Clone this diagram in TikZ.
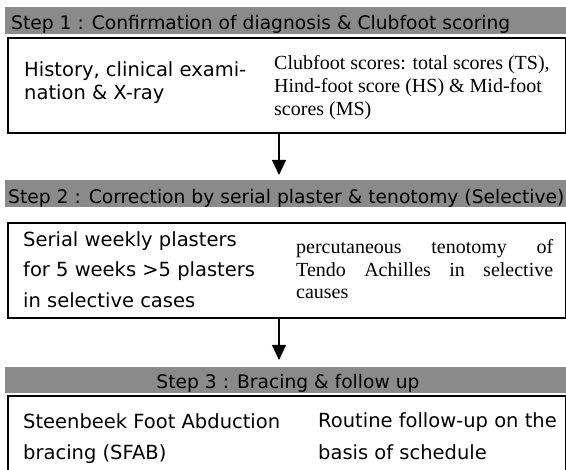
\documentclass[tikz,border=0pt]{standalone}
\usepackage{fontspec}
\setmainfont{Liberation Serif}
\newfontfamily\sansf{DejaVu Sans}
\usetikzlibrary{arrows.meta}
\definecolor{bargray}{RGB}{138,138,138}
\tikzset{
  bar/.style={fill=bargray, draw=none, anchor=north west, inner sep=0pt},
  stepbox/.style={draw=black, line width=1.6pt, fill=none, anchor=north west, inner sep=0pt},
  sans/.style={anchor=base west, inner sep=0pt, font=\sansf\fontsize{19.5}{23}\selectfont},
  head/.style={anchor=base west, inner sep=0pt, font=\sansf\fontsize{18.7}{23}\selectfont},
  serif/.style={anchor=base west, inner sep=0pt, font=\fontsize{20}{23}\selectfont},
  flow/.style={line width=1.2pt, -{Triangle[width=14pt,length=15pt]}},
}
\begin{document}
\begin{tikzpicture}[x=1pt,y=-1pt]
\useasboundingbox (0,0) rectangle (566,470);
\clip (0,0) rectangle (566,470);
\fill[white] (0,0) rectangle (566,470);
% Step 1
\node[bar, minimum width=561pt, minimum height=27pt] (bar1) at (5,7) {};
\node[head] (h1) at (11,30) {Step 1 : Confirmation of diagnosis \& Clubfoot scoring};
\node[stepbox, minimum width=558pt, minimum height=95pt] (box1) at (7,37) {};
\node[sans] (t1a) at (24,77) {History, clinical exami-};
\node[sans] (t1b) at (24,100) {nation \& X-ray};
\node[serif] (s1a) at (274,70) {Clubfoot scores: total scores (TS),};
\node[serif] (s1b) at (274,93) {Hind-foot score (HS) \& Mid-foot};
\node[serif] (s1c) at (274,116) {scores (MS)};
% Step 2
\node[bar, minimum width=561pt, minimum height=27pt] (bar2) at (5,180) {};
\node[head] (h2) at (8,204) {Step 2 : Correction by serial plaster \& tenotomy (Selective)};
\node[stepbox, minimum width=558pt, minimum height=95pt] (box2) at (7,222) {};
\node[sans] (t2a) at (23,247) {Serial weekly plasters};
\node[sans] (t2b) at (23,277) {for 5 weeks >5 plasters};
\node[sans] (t2c) at (23,308) {in selective cases};
\node[serif] (s2a) at (296,254) {\makebox[257pt][s]{percutaneous tenotomy of}};
\node[serif] (s2b) at (296,277) {\makebox[257pt][s]{Tendo Achilles in selective}};
\node[serif] (s2c) at (296,299) {causes};
% Step 3
\node[bar, minimum width=561pt, minimum height=26pt] (bar3) at (5,367) {};
\node[head, anchor=base] (h3) at (288,389) {Step 3 : Bracing \& follow up};
\node[stepbox, minimum width=558pt, minimum height=90pt] (box3) at (7,395) {};
\node[sans] (t3a) at (23,429) {Steenbeek Foot Abduction};
\node[sans] (t3b) at (23,460) {bracing (SFAB)};
\node[sans] (s3a) at (318,428) {Routine follow-up on the};
\node[sans] (s3b) at (318,460) {basis of schedule};
% arrows
\coordinate (ax) at (279,0);
\coordinate (e1) at (279,175);
\coordinate (e2) at (279,360);
\draw[flow] (box1.south -| ax) -- (e1);
\draw[flow] (box2.south -| ax) -- (e2);
\end{tikzpicture}
\end{document}
